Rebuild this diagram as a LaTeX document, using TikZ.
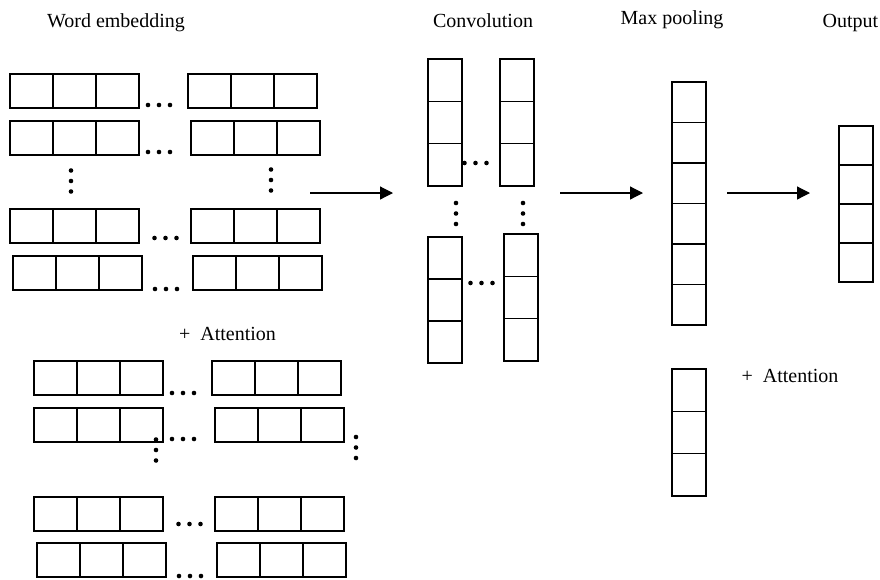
\documentclass[tikz,border=0pt]{standalone}
\usepackage{fontspec}
\setmainfont{Liberation Serif}
\usetikzlibrary{arrows.meta}

\begin{document}
\begin{tikzpicture}[x=1pt, y=-1pt, line width=1.2pt,
  font=\fontsize{20}{24}\selectfont,
  hcell/.style={draw, minimum width=43pt, minimum height=34pt, inner sep=0pt, outer sep=0pt},
  vcell/.style={draw, minimum width=34pt, inner sep=0pt, outer sep=0pt},
  lbl/.style={inner sep=0pt, anchor=base},
  flow/.style={-{Triangle[length=13pt, width=13pt]}}]

\useasboundingbox (0,0) rectangle (880,579);

\node [lbl] (WORD) at (116,27) {Word embedding};
\node [lbl] (CONV) at (483,27) {Convolution};
\node [lbl] (POOL) at (672,24.5) {Max pooling};
\node [lbl] (OUT) at (850.5,27) {Output};
\node [lbl] (ATTW) at (227.5,340) {+~~Attention};
\node [lbl] (ATTP) at (790,382) {+~~Attention};

\foreach \n/\x/\y in {w1a/10/74, w1b/188/74, w2a/10/121, w2b/191/121,
    w3a/10/209, w3b/191/209, w4a/13/256, w4b/193/256,
    a1a/34/361, a1b/212/361, a2a/34/408, a2b/215/408,
    a3a/34/497, a3b/215/497, a4a/37/543, a4b/217/543}
  \foreach \i in {1,2,3}
    \node [hcell] (\n\i) at ({\x+21.5+43*(\i-1)},{\y+17}) {};

\foreach \n/\x/\y/\k/\h in {c1/428/59/3/42.33, c2/500/59/3/42.33,
    c3/428/237/3/42, c4/504/234/3/42.33, p1/672/82/6/40.5,
    p2/672/369/3/42.33, o1/839/126/4/39}
  \foreach \i in {1,...,\k}
    \node [vcell, minimum height=\h pt] (\n\i) at ({\x+17},{\y+\h*(\i-0.5)}) {};

\foreach \x/\y in {159/105, 159/152, 165.5/238, 166/289, 183/393, 183/439,
    189.5/524, 190/576, 475.5/163, 481.5/283}
  \foreach \d in {-11,0,11}
    \fill ({\x+\d},\y) circle (2.3pt);
\foreach \x/\y in {71/181, 271/180, 156/450, 356/447.5, 456/213.5, 523/213.5}
  \foreach \d in {-10.5,0,10.5}
    \fill (\x,{\y+\d}) circle (2.3pt);

\foreach \a/\b/\c in {1/310/393, 2/560/643, 3/727/810} {
  \coordinate (s\a) at (\b,193);
  \coordinate (e\a) at (\c,193);
  \draw [flow] (s\a) -- (e\a);
}
\end{tikzpicture}
\end{document}
